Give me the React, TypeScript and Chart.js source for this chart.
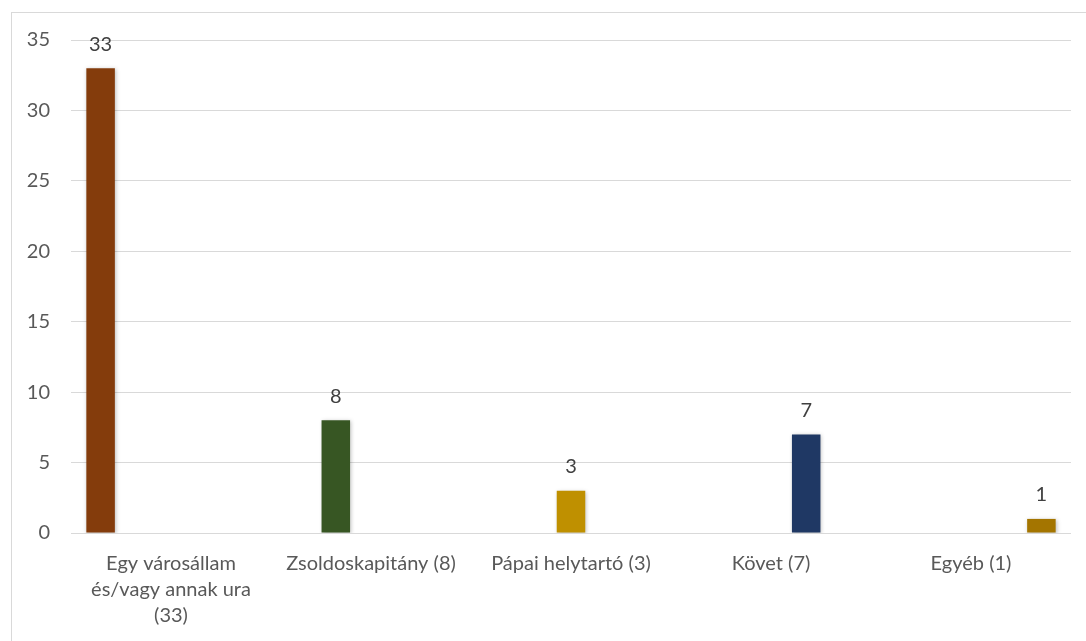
import React, { useEffect, useRef } from "react";
import { Chart, registerables } from "chart.js";

Chart.register(...registerables);

const categories: (string | string[])[] = [
  ["Egy városállam", "és/vagy annak ura", "(33)"],
  "Zsoldoskapitány (8)",
  "Pápai helytartó (3)",
  "Követ (7)",
  "Egyéb (1)",
];
const values: number[] = [33, 8, 3, 7, 1];
const colors: string[] = ["#843C0C", "#375623", "#BF9000", "#1F3864", "#A47500"];
const yTicks = { min: 0, max: 35, step: 5 };

const FONT = "Lato, 'Open Sans', sans-serif";

const valueLabels = {
  id: "valueLabels",
  afterDatasetsDraw(chart: any) {
    const ctx = chart.ctx;
    ctx.save();
    ctx.font = `20px ${FONT}`;
    ctx.fillStyle = "#404040";
    ctx.textAlign = "center";
    ctx.textBaseline = "middle";
    chart.data.datasets.forEach((ds: any, i: number) => {
      const meta = chart.getDatasetMeta(i);
      meta.data.forEach((bar: any, j: number) => {
        const v = ds.data[j];
        if (v === null || v === undefined) return;
        ctx.fillText(String(v), bar.x, bar.y - 24);
      });
    });
    ctx.restore();
  },
};

const barShadow = {
  id: "barShadow",
  beforeDatasetsDraw(chart: any) {
    const ctx = chart.ctx;
    ctx.save();
    ctx.shadowColor = "rgba(0,0,0,0.25)";
    ctx.shadowBlur = 4;
    ctx.shadowOffsetX = 1;
    ctx.shadowOffsetY = 1;
  },
  afterDatasetsDraw(chart: any) {
    chart.ctx.restore();
  },
};

export default function App() {
  const canvasRef = useRef<HTMLCanvasElement | null>(null);

  useEffect(() => {
    if (!canvasRef.current) return;
    const datasets = values.map((v, i) => ({
      label: typeof categories[i] === "string" ? (categories[i] as string) : (categories[i] as string[]).join(" "),
      data: values.map((_, j) => (j === i ? v : null)),
      backgroundColor: colors[i],
      borderWidth: 0,
    }));
    const chart = new Chart(canvasRef.current, {
      type: "bar",
      data: { labels: categories as any, datasets },
      plugins: [barShadow, valueLabels],
      options: {
        responsive: false,
        animation: false,
        devicePixelRatio: 1,
        layout: { padding: { left: 0, top: 40, right: 15, bottom: 0 } },
        datasets: { bar: { categoryPercentage: 0.88, barPercentage: 0.81 } },
        plugins: {
          legend: { display: false },
          tooltip: { enabled: false },
          title: { display: false },
        },
        scales: {
          x: {
            grid: { display: false },
            border: { display: false },
            ticks: {
              color: "#595959",
              font: { family: FONT, size: 20, lineHeight: 1.3 },
              padding: 10,
              maxRotation: 0,
              autoSkip: false,
            },
            afterFit(scale: any) {
              scale.height = 108;
            },
          },
          y: {
            min: yTicks.min,
            max: yTicks.max,
            border: { display: false },
            grid: { color: "#D9D9D9", lineWidth: 1, drawTicks: false },
            ticks: {
              stepSize: yTicks.step,
              color: "#595959",
              font: { family: FONT, size: 20 },
              padding: 21,
            },
            afterFit(scale: any) {
              scale.width = 71;
            },
          },
        },
      },
    });
    return () => chart.destroy();
  }, []);

  return (
    <div
      style={{
        position: "fixed",
        left: 0,
        top: 0,
        width: 1086,
        height: 641,
        overflow: "hidden",
        background: "#fff",
      }}
    >
      <div
        style={{
          position: "absolute",
          left: 11,
          top: 12,
          width: 1090,
          height: 640,
          border: "1px solid #D9D9D9",
          boxSizing: "border-box",
        }}
      />
      <canvas
        ref={canvasRef}
        width={1086}
        height={641}
        style={{ position: "absolute", left: 0, top: 0, width: 1086, height: 641 }}
      />
    </div>
  );
}
